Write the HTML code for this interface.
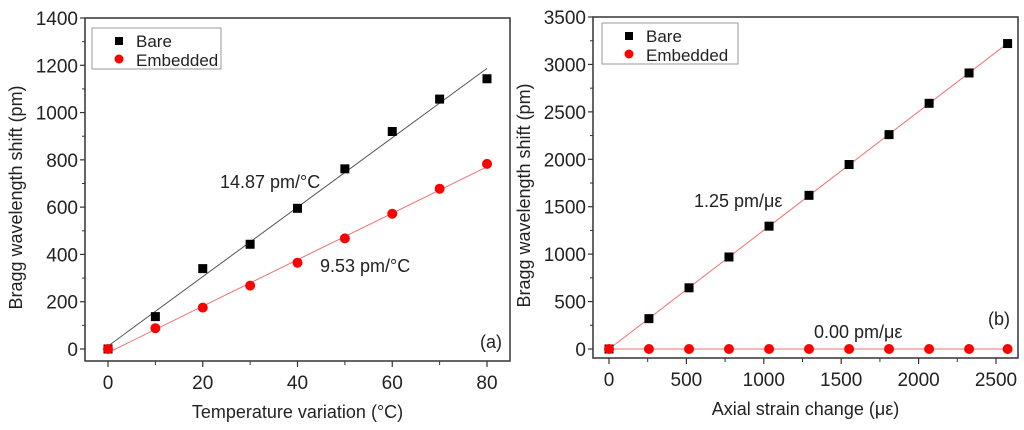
<!DOCTYPE html>
<html><head><meta charset="utf-8"><style>
body{margin:0;background:#fff;width:1024px;height:425px;overflow:hidden}
svg{font-family:"Liberation Sans",sans-serif}
</style></head><body>
<svg id="s" width="1024" height="425"></svg>
<script>
// Panel (a) data
const tempX = [0,10,20,30,40,50,60,70,80];
const tempBare = [0,137,340,443,595,762,920,1057,1143];
const tempEmb = [0,88,175,268,365,468,572,678,783];
const tempYTicks = [0,200,400,600,800,1000,1200,1400];
const tempXTicks = [0,20,40,60,80];
// Panel (b) data
const strainX = [0,258,517,775,1034,1292,1551,1809,2068,2326,2575];
const strainBare = [0,320,645,970,1295,1620,1945,2260,2590,2910,3220];
const strainEmb = [0,0,0,0,0,0,0,0,0,0,0];
const strainYTicks = [0,500,1000,1500,2000,2500,3000,3500];
const strainXTicks = [0,500,1000,1500,2000,2500];

const NS="http://www.w3.org/2000/svg", svg=document.getElementById('s');
function el(t,a,p){const e=document.createElementNS(NS,t);for(const k in a)e.setAttribute(k,a[k]);(p||svg).appendChild(e);return e;}
function txt(x,y,s,a,p){const e=el('text',Object.assign({x:x,y:y,'font-size':16,fill:'#222'},a),p);e.textContent=s;return e;}
function fit(xs,ys){const n=xs.length;let sx=0,sy=0,sxx=0,sxy=0;for(let i=0;i<n;i++){sx+=xs[i];sy+=ys[i];sxx+=xs[i]*xs[i];sxy+=xs[i]*ys[i];}const m=(n*sxy-sx*sy)/(n*sxx-sx*sx||1);return [m,(sy-m*sx)/n];}

function panel(o){
  const g=el('g',{});
  const X=v=>o.x0+(v-o.xmin)/(o.xmax-o.xmin)*(o.x1-o.x0);
  const Y=v=>o.y0-(v-o.ymin)/(o.ymax-o.ymin)*(o.y0-o.y1);
  const fr=el('rect',{x:o.fl,y:o.ft,width:o.fr-o.fl,height:o.fb-o.ft,fill:'none',stroke:'#333','stroke-width':1.5},g);
  
  const yStep=o.yt[1]-o.yt[0];
  o.yt.forEach((v,i)=>{const y=Y(v);el('line',{x1:o.fl-5,x2:o.fl,y1:y,y2:y,stroke:'#333','stroke-width':1.2},g);
    const t=txt(o.fl-7,y+7,String(v),{'text-anchor':'end','font-size':19},g);
    
    if(i<o.yt.length-1){const ym=Y(v+yStep/2);el('line',{x1:o.fl-3,x2:o.fl,y1:ym,y2:ym,stroke:'#333'},g);}});
  const xStep=o.xt[1]-o.xt[0];
  o.xt.forEach((v,i)=>{const x=X(v);el('line',{x1:x,x2:x,y1:o.fb,y2:o.fb+6,stroke:'#333','stroke-width':1.2},g);
    const t=txt(x,o.fb+28,String(v),{'text-anchor':'middle','font-size':19},g);
    
    if(i<o.xt.length-1){const xm=X(v+xStep/2);el('line',{x1:xm,x2:xm,y1:o.fb,y2:o.fb+4,stroke:'#333'},g);}});
  const xt=txt((o.fl+o.fr)/2,o.fb+57,o.xlabel,{'text-anchor':'middle','font-size':18},g);
  
  const yl=txt(0,0,'Bragg wavelength shift (pm)',{'text-anchor':'middle','font-size':18,transform:`translate(${o.fl-63},${(o.ft+o.fb)/2+8}) rotate(-90)`},g);
  
  [[o.xs,o.b,o.bc],[o.xs,o.e,'#f07070']].forEach(([xs,ys,c],k)=>{const [m,b]=fit(xs,ys);const xa=xs[0],xb=xs[xs.length-1];
    const l=el('line',{x1:X(xa),y1:Y(m*xa+b),x2:X(xb),y2:Y(m*xb+b),stroke:c,'stroke-width':1},g);
    });
  o.xs.forEach((v,i)=>{const r=el('rect',{x:X(v)-4.5,y:Y(o.b[i])-4.5,width:9,height:9,fill:'#000'},g);
    });
  o.xs.forEach((v,i)=>{const c=el('circle',{cx:X(v),cy:Y(o.e[i]),r:5,fill:'#f00'},g);
    });
  const lg=el('g',{},g);
  el('rect',{x:o.lx,y:o.ly,width:o.lw,height:41,fill:'#fff',stroke:'#999'},lg);
  el('rect',{x:o.lx+23,y:o.ly+9,width:8,height:8,fill:'#000'},lg);
  txt(o.lx+44,o.ly+19,'Bare',{'font-size':17},lg);
  el('circle',{cx:o.lx+27,cy:o.ly+31,r:4.5,fill:'#f00'},lg);
  txt(o.lx+44,o.ly+38,'Embedded',{'font-size':17},lg);
  o.ann.forEach(a=>{const t=txt(a[0],a[1],a[2],{'font-size':18},g);});
  const pl=txt(o.fr-8,o.tagy,o.tag,{'text-anchor':'end','font-size':18},g);
  
}
panel({name:'panel-a',fl:85,fr:510,ft:18,fb:361,x0:108,x1:487,xmin:0,xmax:80,y0:349,y1:18,ymin:0,ymax:1400,
  yt:tempYTicks,xt:tempXTicks,xs:tempX,b:tempBare,e:tempEmb,bc:'#555',xlabel:'Temperature variation (°C)',
  lx:92,ly:28,lw:129,ann:[[220,188,'14.87 pm/°C'],[320,272,'9.53 pm/°C']],tag:'(a)',tagy:348});
panel({name:'panel-b',fl:593,fr:1018,ft:17,fb:358,x0:609,x1:996,xmin:0,xmax:2500,y0:349,y1:17,ymin:0,ymax:3500,
  yt:strainYTicks,xt:strainXTicks,xs:strainX,b:strainBare,e:strainEmb,bc:'#f07070',xlabel:'Axial strain change (με)',
  lx:602,ly:23,lw:136,ann:[[694,207,'1.25 pm/με'],[814,338,'0.00 pm/με']],tag:'(b)',tagy:325});
</script>
</body></html>
